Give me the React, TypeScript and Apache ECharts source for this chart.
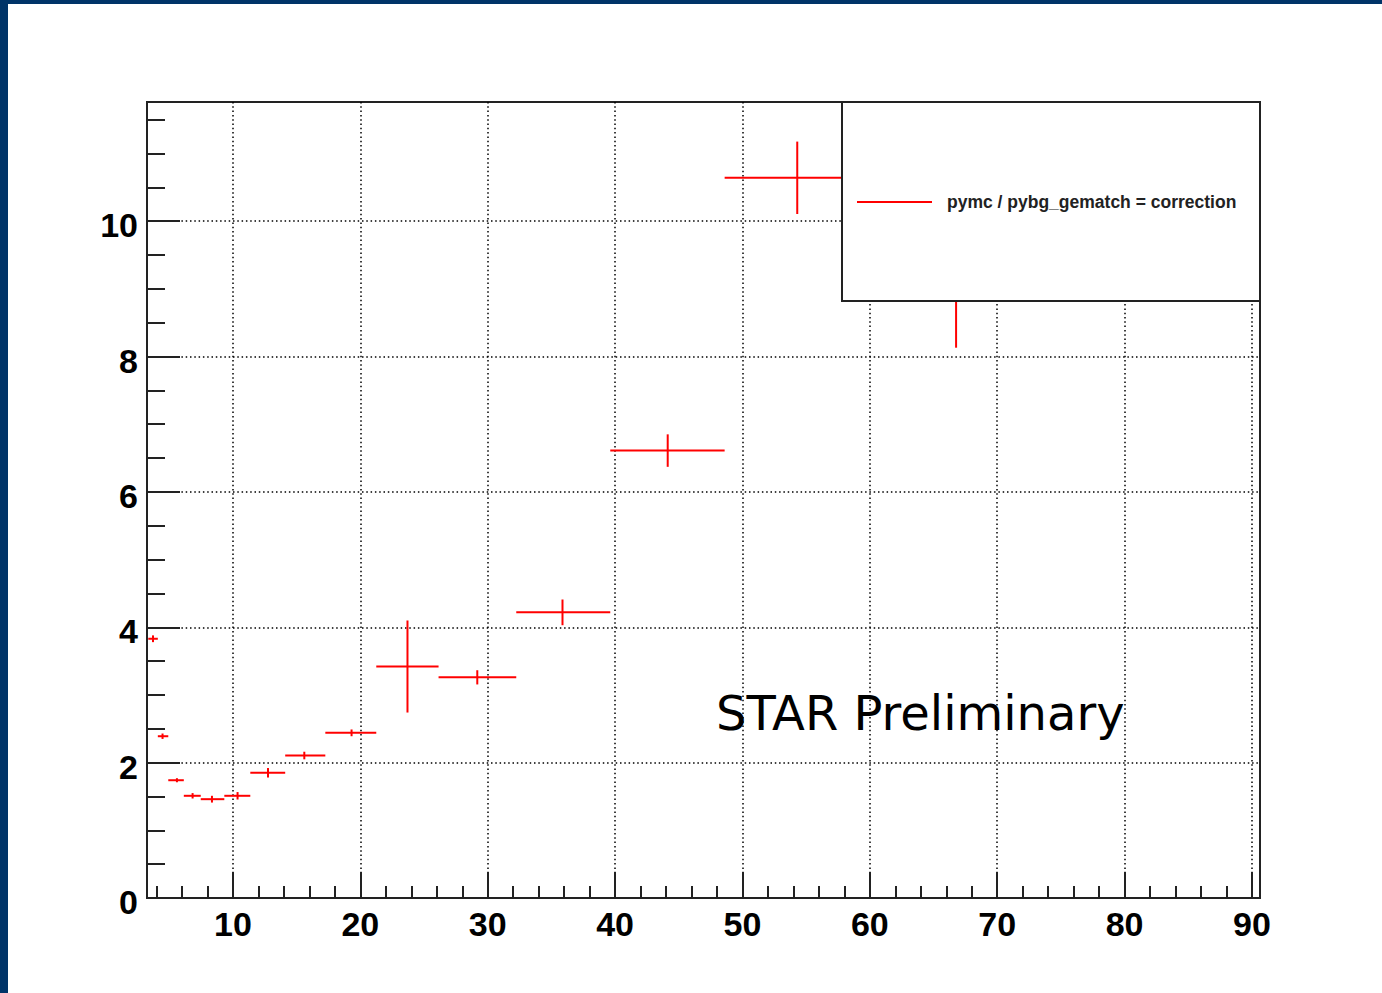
import React, { useEffect, useRef } from "react";
import * as echarts from "echarts";

// ---- data ----
const SERIES_NAME = "pymc / pybg_gematch = correction";
const binLow = [3.35, 4.1, 4.92, 6.14, 7.47, 9.32, 11.36, 14.1, 17.25, 21.25, 26.14, 32.24, 39.62, 48.6, 60.0];
const binHigh = [4.1, 4.92, 6.14, 7.47, 9.32, 11.36, 14.1, 17.25, 21.25, 26.14, 32.24, 39.62, 48.6, 60.0, 73.5];
const binCenter = [3.72, 4.47, 5.6, 6.83, 8.35, 10.36, 12.75, 15.6, 19.31, 23.7, 29.18, 35.87, 44.13, 54.3, 66.77];
const values = [3.83, 2.39, 1.74, 1.51, 1.46, 1.51, 1.85, 2.105, 2.44, 3.42, 3.26, 4.22, 6.61, 10.64, 9.6];
const errors = [0.05, 0.04, 0.03, 0.04, 0.05, 0.055, 0.07, 0.056, 0.05, 0.68, 0.105, 0.19, 0.24, 0.535, 1.47];

const X_MIN = 3.25;
const X_MAX = 90.63;
const Y_MIN = 0;
const Y_MAX = 11.76;
const xMajorTicks = [10, 20, 30, 40, 50, 60, 70, 80, 90];
const xMinorTicks = [4, 6, 8, 12, 14, 16, 18, 22, 24, 26, 28, 32, 34, 36, 38, 42, 44, 46, 48, 52, 54, 56, 58, 62, 64, 66, 68, 72, 74, 76, 78, 82, 84, 86, 88];
const yMajorTicks = [0, 2, 4, 6, 8, 10];
const yMinorTicks = [0.5, 1, 1.5, 2.5, 3, 3.5, 4.5, 5, 5.5, 6.5, 7, 7.5, 8.5, 9, 9.5, 10.5, 11, 11.5];

const LABEL_FONT = "'Liberation Sans', Arial, Helvetica, sans-serif";

export default function App() {
  const ref = useRef<HTMLDivElement>(null);

  useEffect(() => {
    if (!ref.current) return;
    const chart = echarts.init(ref.current, undefined, { renderer: "svg" });

    const data = binLow.map((lo, i) => [lo, binHigh[i], binCenter[i], values[i], errors[i]]);

    const axisColor = "#222";
    const gridLine = { show: true, lineStyle: { color: "#000", type: [1.5, 2.8], width: 1.5 } };
    const labelStyle = {
      fontSize: 34,
      fontWeight: "bold" as const,
      fontFamily: LABEL_FONT,
      color: "#000",
    };

    const option: any = {
      animation: false,
      backgroundColor: "#fff",
      grid: {
        left: 147,
        top: 102,
        right: 122,
        bottom: 95,
        show: true,
        borderColor: axisColor,
        borderWidth: 2,
        backgroundColor: "transparent",
      },
      legend: {
        data: [SERIES_NAME],
        left: 852,
        top: 188,
        itemWidth: 75,
        itemHeight: 2,
        icon: "rect",
        itemStyle: { color: "#ff0000" },
        textStyle: {
          fontSize: 17.5,
          fontWeight: "bold",
          fontFamily: LABEL_FONT,
          color: "#222",
          padding: [0, 0, 0, 10],
        },
        z: 20,
      },
      xAxis: [
        {
          type: "value",
          min: X_MIN,
          max: X_MAX,
          position: "bottom",
          axisLine: { show: true, onZero: false, lineStyle: { color: axisColor, width: 2 } },
          axisTick: { show: true, inside: true, length: 26, customValues: xMajorTicks, lineStyle: { color: axisColor, width: 2 } },
          axisLabel: { ...labelStyle, margin: 9, customValues: xMajorTicks },
          splitLine: gridLine,
        },
        {
          type: "value",
          min: X_MIN,
          max: X_MAX,
          position: "bottom",
          axisLine: { show: false },
          axisTick: { show: true, inside: true, length: 12, customValues: xMinorTicks, lineStyle: { color: axisColor, width: 2 } },
          axisLabel: { show: false },
          splitLine: { show: false },
        },
      ],
      yAxis: [
        {
          type: "value",
          min: Y_MIN,
          max: Y_MAX,
          position: "left",
          axisLine: { show: true, onZero: false, lineStyle: { color: axisColor, width: 2 } },
          axisTick: { show: true, inside: true, length: 33, customValues: yMajorTicks, lineStyle: { color: axisColor, width: 2 } },
          axisLabel: { ...labelStyle, margin: 9, verticalAlign: "top", lineHeight: 8, customValues: yMajorTicks },
          splitLine: gridLine,
        },
        {
          type: "value",
          min: Y_MIN,
          max: Y_MAX,
          position: "left",
          axisLine: { show: false },
          axisTick: { show: true, inside: true, length: 18, customValues: yMinorTicks, lineStyle: { color: axisColor, width: 2 } },
          axisLabel: { show: false },
          splitLine: { show: false },
        },
      ],
      graphic: [
        { type: "rect", left: 0, top: 0, shape: { x: 0, y: 0, width: 8, height: 993 }, style: { fill: "#003468" }, z: 50 },
        { type: "rect", left: 0, top: 0, shape: { x: 0, y: 0, width: 1382, height: 4 }, style: { fill: "#003468" }, z: 50 },
        {
          type: "rect",
          shape: { x: 842, y: 102, width: 418, height: 199 },
          style: { fill: "#fff", stroke: axisColor, lineWidth: 2 },
          z: 10,
        },
        {
          type: "text",
          x: 716,
          y: 713,
          style: {
            text: "STAR Preliminary",
            font: "48px 'DejaVu Sans', sans-serif",
            fill: "#000",
            verticalAlign: "middle",
            align: "left",
          },
          z: 10,
        },
      ],
      series: [
        {
          name: SERIES_NAME,
          type: "custom",
          xAxisIndex: 0,
          yAxisIndex: 0,
          itemStyle: { color: "#ff0000" },
          encode: { x: [0, 1, 2], y: [3] },
          data,
          renderItem: (params: any, api: any) => {
            const lo = api.value(0);
            const hi = api.value(1);
            const c = api.value(2);
            const v = api.value(3);
            const e = api.value(4);
            const a = api.coord([lo, v]);
            const b = api.coord([hi, v]);
            const top = api.coord([c, v + e]);
            const bot = api.coord([c, v - e]);
            const style = { stroke: "#ff0000", lineWidth: 2 };
            return {
              type: "group",
              children: [
                { type: "line", shape: { x1: a[0], y1: a[1], x2: b[0], y2: b[1] }, style },
                { type: "line", shape: { x1: top[0], y1: top[1], x2: bot[0], y2: bot[1] }, style },
              ],
            };
          },
          z: 2,
        },
      ],
    };

    chart.setOption(option);
    return () => chart.dispose();
  }, []);

  return (
    <div
      ref={ref}
      style={{ position: "absolute", left: 0, top: 0, width: 1382, height: 993, background: "#fff" }}
    />
  );
}
